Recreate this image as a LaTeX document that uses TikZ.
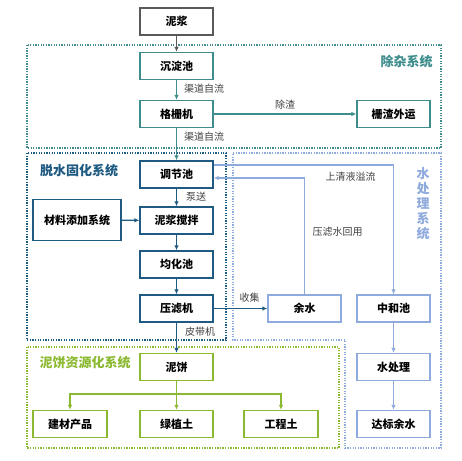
\documentclass[tikz,border=0pt]{standalone}
\usepackage{fontspec}
\setmainfont{Noto Sans CJK SC}
\usetikzlibrary{arrows.meta}
\definecolor{mudgray}{RGB}{89,89,89}
\definecolor{labelgray}{RGB}{64,64,64}
\definecolor{impuritycol}{RGB}{62,140,140}
\definecolor{dewatercol}{RGB}{31,90,130}
\definecolor{watercol}{RGB}{143,170,220}
\definecolor{cakecol}{RGB}{140,185,50}

\begin{document}
\begin{tikzpicture}[x=1pt, y=-1pt,
    box/.style={draw, line width=1.3pt, fill=white, text=black, minimum width=73pt, minimum height=27pt, inner sep=0pt, font=\bfseries\fontsize{11}{13}\selectfont},
    lbl/.style={text=labelgray, inner sep=0pt, font=\fontsize{10}{12}\selectfont},
    sys/.style={inner sep=0pt, font=\bfseries\fontsize{13}{15}\selectfont},
    region/.style={line width=1.3pt, dash pattern=on 1.3pt off 1.3pt},
    flow/.style={line width=1.3pt, -{Latex[length=5pt,width=4.5pt]}}]
    \useasboundingbox (0,0) rectangle (462,460);

    % system regions
    \draw[region, impuritycol] (27,45) rectangle (441,148);
    \draw[region, dewatercol] (27,153) rectangle (226,340);
    \draw[region, watercol] (233,153) -- (441,153) -- (441,448) -- (345,448) -- (345,340) -- (233,340) -- cycle;
    \draw[region, cakecol] (27,347) rectangle (339,448);

    \node[sys, text=impuritycol] (impuritytitle) at (406.5,62) {除杂系统};
    \node[sys, text=dewatercol] (dewatertitle) at (79,171) {脱水固化系统};
    \node[sys, text=cakecol] (caketitle) at (85,363) {泥饼资源化系统};
    \node[sys, text=watercol, align=center] (watertitle) at (423,204) {水\\处\\理\\系\\统};

    % process boxes
    \node[box, draw=mudgray] (mud) at (176.5,21.5) {泥浆};
    \node[box, draw=impuritycol] (settle) at (176.5,66) {沉淀池};
    \node[box, draw=impuritycol] (grid) at (176.5,114) {格栅机};
    \node[box, draw=impuritycol] (slag) at (393.5,114) {栅渣外运};
    \node[box, draw=dewatercol] (adjust) at (176.5,174.5) {调节池};
    \node[box, draw=dewatercol, minimum width=88pt, minimum height=41pt] (additive) at (77,220) {材料添加系统};
    \node[box, draw=dewatercol] (mix) at (176.5,220.5) {泥浆搅拌};
    \node[box, draw=dewatercol] (homog) at (176.5,264.5) {均化池};
    \node[box, draw=dewatercol] (press) at (176.5,308.5) {压滤机};
    \node[box, draw=watercol] (residual) at (304.5,308.5) {余水};
    \node[box, draw=watercol] (neutral) at (393.5,308.5) {中和池};
    \node[box, draw=watercol] (treat) at (393.5,367) {水处理};
    \node[box, draw=watercol] (clean) at (393.5,424) {达标余水};
    \node[box, draw=cakecol] (cake) at (176.5,367) {泥饼};
    \node[box, draw=cakecol, minimum width=74pt] (build) at (70,424) {建材产品};
    \node[box, draw=cakecol] (greensoil) at (176.5,424) {绿植土};
    \node[box, draw=cakecol, minimum width=74pt] (fillsoil) at (281,424) {工程土};
    \coordinate (split) at (176.5,394);

    % connectors
    \draw[flow, mudgray] (mud) -- (settle);
    \draw[flow, impuritycol] (settle) -- (grid);
    \draw[flow, impuritycol] (grid) -- (slag);
    \draw[flow, impuritycol] (grid) -- (adjust);
    \draw[flow, dewatercol] (adjust) -- (mix);
    \draw[flow, dewatercol] (additive) -- (mix);
    \draw[flow, dewatercol] (mix) -- (homog);
    \draw[flow, dewatercol] (homog) -- (press);
    \draw[flow, dewatercol] (press) -- (residual);
    \draw[flow, dewatercol] (press) -- (cake);
    \draw[flow, watercol] ([yshift=9.5pt]adjust.east) -| (neutral);
    \draw[flow, watercol] (residual) |- ([yshift=-3.5pt]adjust.east);
    \draw[flow, watercol] (neutral) -- (treat);
    \draw[flow, watercol] (treat) -- (clean);
    \draw[line width=1.3pt, cakecol] (cake) -- (split);
    \draw[flow, cakecol] (split) -| (build);
    \draw[flow, cakecol] (split) -- (greensoil);
    \draw[flow, cakecol] (split) -| (fillsoil);

    % connector labels
    \node[lbl, anchor=west] (lblchannela) at (184,89) {渠道自流};
    \node[lbl, anchor=west] (lblchannelb) at (184,137) {渠道自流};
    \node[lbl] (lblslag) at (285,105) {除渣};
    \node[lbl, anchor=west] (lblpump) at (186,197) {泵送};
    \node[lbl, anchor=west] (lblbelt) at (185,332) {皮带机};
    \node[lbl] (lblcollect) at (249.5,298) {收集};
    \node[lbl] (lbloverflow) at (350.5,177) {上清液溢流};
    \node[lbl] (lblreuse) at (337.5,232) {压滤水回用};
\end{tikzpicture}
\end{document}
